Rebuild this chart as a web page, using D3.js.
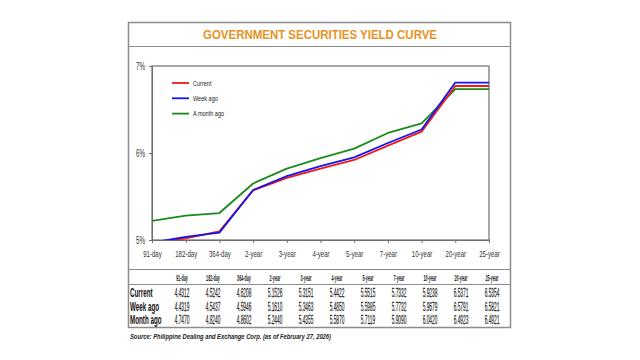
<!DOCTYPE html>
<html><head><meta charset="utf-8">
<script src="https://cdn.jsdelivr.net/npm/d3@7"></script>
<style>html,body{margin:0;padding:0;background:#fff;}svg{display:block;}</style>
</head><body>
<script>
const categories = ["91-day","182-day","364-day","2-year","3-year","4-year","5-year","7-year","10-year","20-year","25-year"];
// values plotted in the chart
const chartCurrent = [4.97,5.02,5.10,5.57,5.715,5.82,5.92,6.085,6.245,6.77,6.77];
const chartWeekAgo = [4.97,5.035,5.085,5.575,5.735,5.85,5.95,6.115,6.27,6.81,6.81];
const chartMonthAgo = [5.22,5.28,5.31,5.65,5.82,5.94,6.05,6.23,6.34,6.735,6.735];
// values in the table
const tableCurrent = ["4.4312","4.5242","4.6208","5.1526","5.3151","5.4422","5.5515","5.7332","5.9238","6.5371","6.5354"];
const tableWeekAgo = ["4.4319","4.5437","4.5946","5.1610","5.3463","5.4850","5.5985","5.7732","5.9679","6.5791","6.5821"];
const tableMonthAgo = ["4.7470","4.8240","4.8602","5.2440","5.4355","5.5870","5.7119","5.9090","6.0420","6.4923","6.4921"];
const seriesNames = ["Current","Week ago","A month ago"];
const rowNames = ["Current","Week ago","Month ago"];
const yTicks = [5,6,7];
const title = "GOVERNMENT SECURITIES YIELD CURVE";
const source = "Source: Philippine Dealing and Exchange Corp. (as of February 27, 2026)";

(function(){
const colors = ["#f01818","#1414f0","#1a8a1a"];
const W = 640, H = 360;
const svg = d3.select("body").append("svg").attr("width", W).attr("height", H);
svg.append("rect").attr("width", W).attr("height", H).attr("fill", "#fff");

const font = "'Liberation Sans',Arial,sans-serif";

// outer frame
svg.append("rect").attr("x", 128.5).attr("y", 22.5).attr("width", 382).attr("height", 305)
  .attr("fill", "none").attr("stroke", "#8c8c8c").attr("stroke-width", 1.5);
[46.5, 269.5, 284.5].forEach(ly => {
  svg.append("line").attr("x1", 128).attr("x2", 511).attr("y1", ly).attr("y2", ly)
    .attr("stroke", "#8c8c8c").attr("stroke-width", 1.2);
});

// title
svg.append("text").attr("x", 320).attr("y", 38.5).attr("text-anchor", "middle")
  .attr("font-family", font).attr("font-weight", "bold")
  .attr("font-size", 12.5).attr("fill", "#e8921e")
  .attr("textLength", 234).attr("lengthAdjust", "spacingAndGlyphs").text(title);

// plot
const pL = 152, pR = 489, pT = 66, pB = 240;
const x = d3.scalePoint().domain(categories).range([pL, pR]).padding(0);
const y = d3.scaleLinear().domain([5, 7]).range([pB, pT]);

svg.append("defs").append("clipPath").attr("id", "clip")
  .append("rect").attr("x", pL).attr("y", pT).attr("width", pR - pL).attr("height", pB - pT);

svg.append("rect").attr("x", pL).attr("y", pT).attr("width", pR - pL).attr("height", pB - pT)
  .attr("fill", "none").attr("stroke", "#6e6e6e").attr("stroke-width", 1.2);

// x axis
const xAxis = svg.append("g").attr("transform", `translate(0,${pB})`)
  .call(d3.axisBottom(x).tickSize(3).tickPadding(7));
xAxis.select(".domain").attr("stroke", "#6e6e6e");
xAxis.selectAll(".tick line").attr("stroke", "#6e6e6e");
xAxis.selectAll(".tick text").attr("font-family", font).attr("font-size", 9.5).attr("fill", "#333")
  .attr("transform", "scale(0.64,1)");

// y axis
const yAxis = svg.append("g").attr("transform", `translate(${pL},0)`)
  .call(d3.axisLeft(y).tickValues(yTicks).tickFormat(d => d + "%").tickSize(3).tickPadding(4));
yAxis.select(".domain").attr("stroke", "#6e6e6e");
yAxis.selectAll(".tick line").attr("stroke", "#6e6e6e");
yAxis.selectAll(".tick text").attr("font-family", font).attr("font-size", 10.5).attr("fill", "#333")
  .attr("transform", "scale(0.6,1)").attr("x", -7 / 0.6);

// lines
const line = d3.line().x((d, i) => x(categories[i])).y(d => y(d));
const series = [chartCurrent, chartWeekAgo, chartMonthAgo];
const g = svg.append("g").attr("clip-path", "url(#clip)");
[2, 0, 1].forEach(k => {
  g.append("path").datum(series[k]).attr("d", line).attr("fill", "none")
    .attr("stroke", colors[k]).attr("stroke-width", 1.8).attr("stroke-linejoin", "round");
});

// legend
seriesNames.forEach((n, i) => {
  const ly = 83 + i * 15.3;
  svg.append("line").attr("x1", 172).attr("x2", 189).attr("y1", ly).attr("y2", ly)
    .attr("stroke", colors[i]).attr("stroke-width", 1.8);
  svg.append("text").attr("transform", `translate(193,${ly + 2.6}) scale(0.74,1)`).attr("font-family", font)
    .attr("font-size", 7.5).attr("fill", "#222").text(n);
});

// table
const tx = d3.scalePoint().domain(categories).range([182, 492]).padding(0);
function sText(px, py, str, opts) {
  return svg.append("text").attr("transform", `translate(${px},${py}) scale(${opts.sx},1)`)
    .attr("text-anchor", opts.anchor || "middle").attr("font-family", font)
    .attr("font-size", opts.size).attr("fill", opts.fill || "#333")
    .attr("font-weight", opts.bold ? "bold" : "normal").text(str);
}
categories.forEach(c => sText(tx(c), 281.3, c, {size: 9.5, bold: true, fill: "#1a1a1a", sx: 0.39}));
const rows = [tableCurrent, tableWeekAgo, tableMonthAgo];
rows.forEach((r, ri) => {
  const ry = 297 + ri * 13.7;
  sText(130, ry, rowNames[ri], {size: 12.5, bold: true, fill: "#111", anchor: "start", sx: 0.5});
  r.forEach((v, ci) => sText(tx(categories[ci]), ry, v, {size: 12, fill: "#333", sx: 0.4})
    .attr("stroke", "#333").attr("stroke-width", 0.25));
});

// source
svg.append("text").attr("x", 130).attr("y", 339).attr("font-family", font)
  .attr("font-size", 6.8).attr("font-weight", "bold").attr("font-style", "italic").attr("fill", "#222")
  .attr("textLength", 201).attr("lengthAdjust", "spacingAndGlyphs").text(source);
})();
</script>
</body></html>
